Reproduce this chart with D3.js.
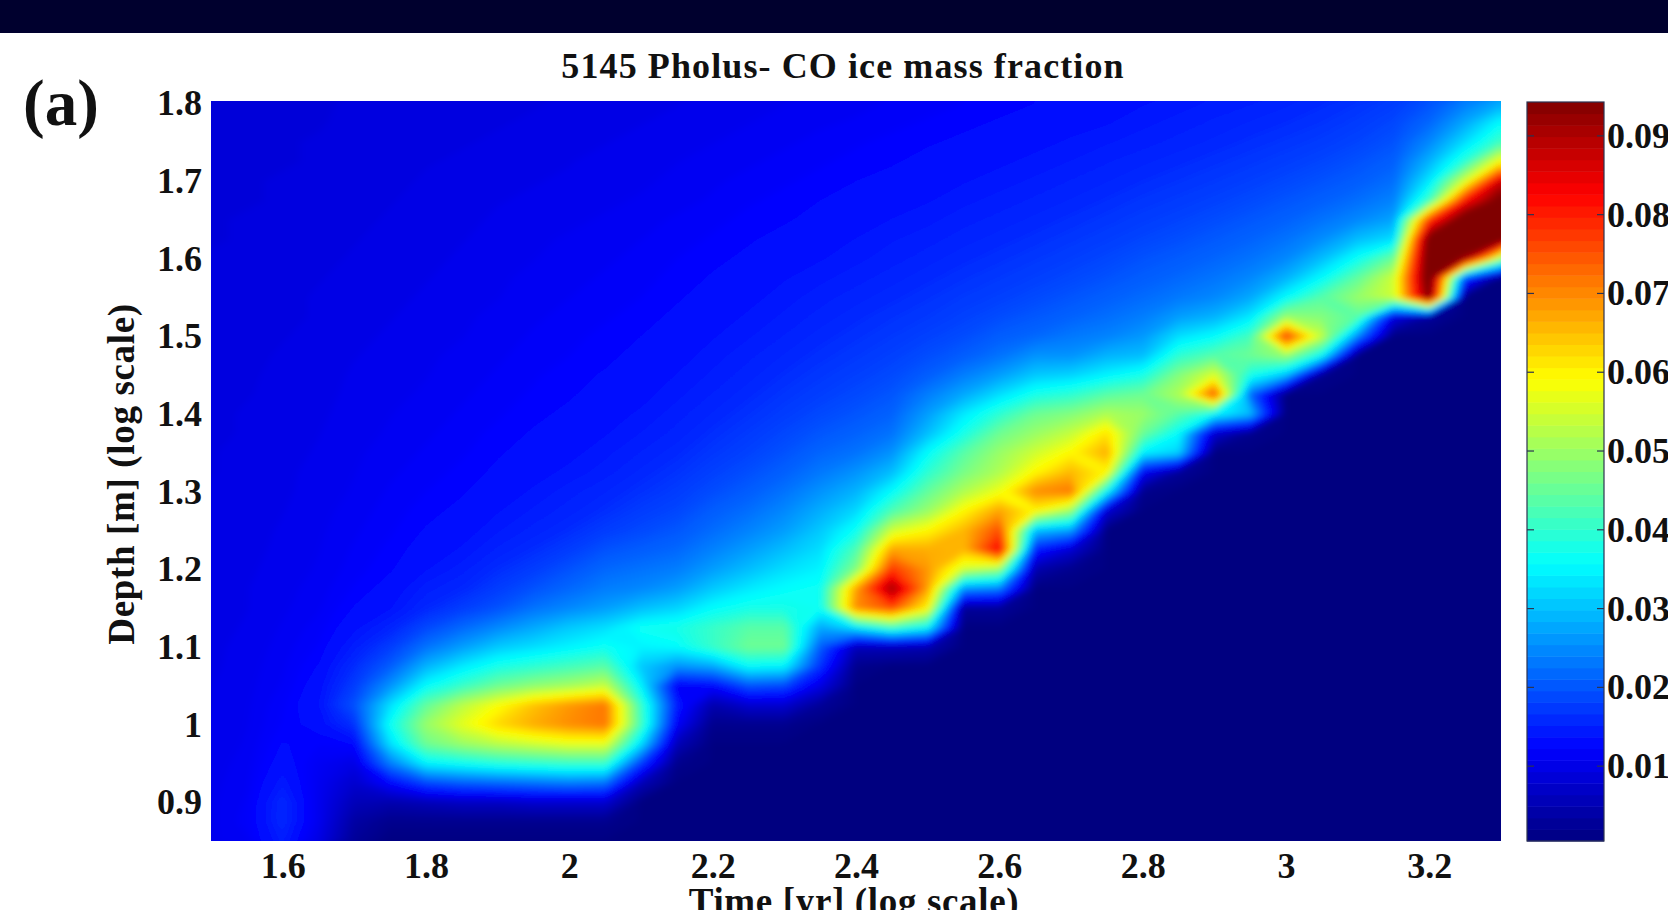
<!DOCTYPE html>
<html>
<head>
<meta charset="utf-8">
<script src="https://d3js.org/d3.v7.min.js"></script>
<style>
html, body { margin: 0; padding: 0; background: #fff; overflow: hidden; }
text { font-family: "Liberation Serif", serif; font-weight: bold; fill: #111; }
</style>
</head>
<body>
<svg id="chart" width="1668" height="910"></svg>
<script>
// ==================================
// DATA
// ==================================
const titleText = "5145 Pholus- CO ice mass fraction";
const xLabelText = "Time [yr] (log scale)";
const yLabelText = "Depth [m] (log scale)";
const xTicks = [1.6, 1.8, 2, 2.2, 2.4, 2.6, 2.8, 3, 3.2];
const yTicks = [0.9, 1, 1.1, 1.2, 1.3, 1.4, 1.5, 1.6, 1.7, 1.8];
const barTicks = [0.01, 0.02, 0.03, 0.04, 0.05, 0.06, 0.07, 0.08, 0.09];
const xDomain = [1.5, 3.3];
const yDomain = [0.85, 1.803];
const barDomain = [0.0005, 0.0943];

// grid of the field: log time (columns) and log depth (rows, top to bottom)
const times = [1.5, 1.55, 1.6, 1.65, 1.7, 1.75, 1.8, 1.85, 1.9, 1.95, 2, 2.05, 2.1, 2.15, 2.2, 2.25, 2.3, 2.35, 2.4,
    2.45, 2.5, 2.55, 2.6, 2.65, 2.7, 2.75, 2.8, 2.85, 2.9, 2.95, 3, 3.05, 3.1, 3.15, 3.2, 3.25, 3.3];
const depths = [1.8, 1.775, 1.75, 1.725, 1.7, 1.675, 1.65, 1.625, 1.6, 1.575, 1.55, 1.525, 1.5, 1.475, 1.45, 1.425,
    1.4, 1.375, 1.35, 1.325, 1.3, 1.275, 1.25, 1.225, 1.2, 1.175, 1.15, 1.125, 1.1, 1.075, 1.05, 1.025,
    1, 0.975, 0.95, 0.925, 0.9, 0.875, 0.85];

// CO mass fraction x 1000, one list per time column
const fractionByTime = [
    [9,9,9.1,9.1, 9.2,9.2,9.3,9.3, 9.4,9.4,9.5,9.5, 9.6,9.6,9.7,9.7, 9.8,9.8,9.9,9.9, 10,10,10.1,10.1, 10.2,10.2,10.3,10.3, 10.4,10.4,10.5,10.5, 10.6,10.7,10.8,10.9, 11,11,11],
    [9.1,9.1,9.2,9.2, 9.3,9.3,9.4,9.4, 9.5,9.5,9.6,9.7, 9.8,9.8,9.9,9.9, 10,10,10.1,10.1, 10.2,10.2,10.3,10.3, 10.4,10.5,10.5,10.6, 10.7,10.8,10.9,11, 11.1,11.2,11.4,11.6, 11.8,12,11.6],
    [9.2,9.2,9.3,9.3, 9.4,9.4,9.5,9.5, 9.6,9.7,9.8,9.8, 9.9,10,10,10.1, 10.2,10.2,10.3,10.4, 10.4,10.5,10.6,10.7, 10.8,10.9,11,11.2, 11.4,11.6,11.8,12.2, 12.4,13,13.6,14.6, 16,16,15],
    [9.3,9.3,9.4,9.4, 9.5,9.6,9.6,9.7, 9.8,9.9,10,10, 10.1,10.2,10.3,10.3, 10.4,10.5,10.6,10.7, 10.8,10.9,11,11.1, 11.2,11.4,11.6,12, 12.4,13,13.6,14, 13.4,12.4,11.6,11.2, 11,11,10],
    [9.4,9.5,9.5,9.6, 9.7,9.7,9.8,9.9, 10,10.1,10.2,10.3, 10.4,10.5,10.6,10.7, 10.8,10.9,11,11.1, 11.2,11.4,11.6,11.8, 12,12.4,13,13.8, 15,16.5,18,20, 17,13,10,8, 6,4,3],
    [9.5,9.6,9.7,9.7, 9.8,9.9,10,10.1, 10.2,10.3,10.4,10.5, 10.6,10.7,10.8,11, 11.1,11.2,11.4,11.6, 11.8,12,12.2,12.5, 12.8,13.4,14,15.6, 18,21,26,33, 37,33,24,13, 5,2,1],
    [9.6,9.7,9.8,9.9, 10,10.1,10.2,10.3, 10.4,10.5,10.6,10.7, 10.8,11,11.1,11.2, 11.4,11.6,11.8,12, 12.3,12.6,13,13.4, 14,15,16,19, 23,29,36,45, 50,46,35,19, 6,2,1],
    [9.7,9.8,9.9,10, 10.2,10.3,10.4,10.5, 10.6,10.7,10.9,11, 11.1,11.3,11.4,11.6, 11.8,12,12.2,12.5, 12.8,13.2,13.6,14.2, 15,16,18,22, 27,34,41,53, 57,50,37,21, 7,2,1],
    [9.8,9.9,10,10.2, 10.3,10.5,10.6,10.7, 10.9,11,11.1,11.3, 11.4,11.6,11.8,12, 12.2,12.5,12.8,13.1, 13.5,14,14.6,15.4, 16.5,18,20,25, 31,38,46,59, 63,53,39,22, 7,2,1],
    [9.9,10,10.2,10.3, 10.5,10.6,10.8,11, 11.1,11.3,11.4,11.6, 11.8,12,12.2,12.4, 12.7,13,13.3,13.7, 14.2,14.8,15.5,16.5, 18,20,23,28, 33,40,49,65, 67,55,40,23, 8,2,1],
    [10,10.2,10.3,10.5, 10.6,10.8,11,11.2, 11.4,11.5,11.7,11.9, 12.1,12.3,12.6,12.8, 13.1,13.5,13.8,14.3, 15,15.6,16.5,18, 20,22,25,31, 35,42,51,69, 70,57,41,24, 8,2,1],
    [10.2,10.3,10.5,10.7, 10.8,11,11.2,11.4, 11.6,11.8,12,12.2, 12.5,12.7,13,13.3, 13.7,14,14.5,15, 15.8,16.6,18,20, 22,24,27,33, 37,44,54,72, 72,57,41,23, 8,2,1],
    [10.3,10.5,10.7,10.9, 11,11.2,11.5,11.7, 11.9,12.1,12.3,12.6, 12.9,13.2,13.5,13.8, 14.2,14.7,15.3,16, 16.8,18,19.2,21, 23,25,30,37, 35,31,35,41, 42,33,18,6, 1,1,1],
    [10.5,10.7,10.9,11.1, 11.3,11.5,11.8,12, 12.3,12.5,12.8,13.1, 13.4,13.7,14.1,14.5, 15,15.5,16.2,17, 18,19,20.4,22, 24,27,32,38, 36,26,12,15, 12,6,2,1, 1,1,1],
    [10.7,10.9,11.1,11.4, 11.6,11.8,12.1,12.4, 12.7,13,13.3,13.6, 14,14.4,14.8,15.3, 15.9,16.6,17.4,18.4, 19.5,21,22.4,24.4, 27,31,36,41, 41,28,13,5, 2,1,1,1, 1,1,1],
    [10.9,11.1,11.4,11.6, 11.9,12.2,12.5,12.8, 13.1,13.5,13.8,14.2, 14.6,15.1,15.6,16.2, 16.9,17.7,18.6,19.7, 21,22.6,24.5,27, 30,34,38,44, 46,36,20,8, 2,1,1,1, 1,1,1],
    [11.1,11.4,11.6,11.9, 12.2,12.5,12.8,13.2, 13.6,14,14.4,14.8, 15.3,15.9,16.5,17.2, 18,19,20,21.3, 23,25,27,30, 33,36,38,44, 46,35,19,8, 2,1,1,1, 1,1,1],
    [11.3,11.6,11.9,12.2, 12.5,12.9,13.2,13.6, 14,14.5,15,15.5, 16.1,16.7,17.4,18.2, 19.2,20.3,21.8,23.5, 26,28.5,31,33, 35,37,37,28, 21,17,10,3, 1,1,1,1, 1,1,1],
    [11.5,11.8,12.2,12.5, 12.9,13.2,13.6,14.1, 14.5,15,15.6,16.2, 16.8,17.5,18.3,19.2, 20.2,21.5,23,26, 29,32.5,37,43, 48,68,70,34, 6,2,1,1, 1,1,1,1, 1,1,1],
    [11.8,12.1,12.5,12.8, 13.2,13.6,14.1,14.6, 15,15.6,16.2,16.9, 17.6,18.4,19.3,20.3, 21.5,23,26,30, 36,43,55,68, 78,92,76,42, 6,1,1,1, 1,1,1,1, 1,1,1],
    [12,12.4,12.8,13.2, 13.6,14,14.5,15, 15.6,16.2,16.9,17.6, 18.5,19.6,21,24, 27,30,36,40, 45,50,60,67, 69,68,60,36, 5,1,1,1, 1,1,1,1, 1,1,1],
    [12.3,12.7,13.1,13.5, 14,14.5,15,15.6, 16.2,16.9,17.7,18.5, 19.5,21,24,28, 34,38,44,47, 52,60,66,66, 55,26,3,1, 1,1,1,1, 1,1,1,1, 1,1,1],
    [12.6,13,13.4,13.9, 14.4,14.9,15.5,16.1, 16.8,17.6,18.4,19.5, 21,23,27,33, 40,46,50,52, 58,68,76,84, 50,24,3,1, 1,1,1,1, 1,1,1,1, 1,1,1],
    [12.9,13.3,13.8,14.3, 14.8,15.4,16,16.7, 17.5,18.3,19.3,20.5, 22,26,31,38, 46,50,55,60, 70,60,30,15, 5,1,1,1, 1,1,1,1, 1,1,1,1, 1,1,1],
    [13.2,13.7,14.2,14.7, 15.3,15.9,16.6,17.4, 18.2,19.1,20.2,21.5, 23.5,26,32,40, 48,54,60,66, 72,50,27,8, 2,1,1,1, 1,1,1,1, 1,1,1,1, 1,1,1],
    [13.6,14,14.6,15.2, 15.8,16.5,17.3,18.1, 19,20,21.2,22.6, 24.5,29,35,44, 52,62,67,60, 36,8,1,1, 1,1,1,1, 1,1,1,1, 1,1,1,1, 1,1,1],
    [14,14.5,15,15.7, 16.4,17.2,18,18.9, 20,21,22.3,24, 26.5,30,38,46, 50,46,35,12, 2,1,1,1, 1,1,1,1, 1,1,1,1, 1,1,1,1, 1,1,1],
    [14.4,14.9,15.5,16.2, 17,17.8,18.7,19.7, 20.8,22,23.6,27, 33,40,48,52, 44,36,32,3, 1,1,1,1, 1,1,1,1, 1,1,1,1, 1,1,1,1, 1,1,1],
    [14.8,15.4,16,16.8, 17.6,18.5,19.5,20.6, 21.8,23.2,25,29, 36,44,56,76, 36,8,1,1, 1,1,1,1, 1,1,1,1, 1,1,1,1, 1,1,1,1, 1,1,1],
    [15.2,15.9,16.6,17.4, 18.3,19.3,20.4,21.6, 23,25,28,34, 42,46,38,22, 30,2,1,1, 1,1,1,1, 1,1,1,1, 1,1,1,1, 1,1,1,1, 1,1,1],
    [15.7,16.4,17.2,18.1, 19.1,20.2,21.4,23, 25,29,36,50, 78,50,30,1, 1,1,1,1, 1,1,1,1, 1,1,1,1, 1,1,1,1, 1,1,1,1, 1,1,1],
    [16.3,17,17.9,18.9, 20,21.2,23,25.5, 30,36,44,48, 54,36,2,1, 1,1,1,1, 1,1,1,1, 1,1,1,1, 1,1,1,1, 1,1,1,1, 1,1,1],
    [17,17.9,18.8,19.9, 21,22.6,25,30, 37,45,50,44, 25,1,1,1, 1,1,1,1, 1,1,1,1, 1,1,1,1, 1,1,1,1, 1,1,1,1, 1,1,1],
    [18,19,20,21.2, 22.6,24.5,27.5,33, 46,55,55,10, 1,1,1,1, 1,1,1,1, 1,1,1,1, 1,1,1,1, 1,1,1,1, 1,1,1,1, 1,1,1],
    [20,22,25,29, 34,42,78,98, 100,100,96,3, 1,1,1,1, 1,1,1,1, 1,1,1,1, 1,1,1,1, 1,1,1,1, 1,1,1,1, 1,1,1],
    [24,28,33,40, 56,82,100,100, 92,18,1,1, 1,1,1,1, 1,1,1,1, 1,1,1,1, 1,1,1,1, 1,1,1,1, 1,1,1,1, 1,1,1],
    [28,36,42,60, 88,97,100,98, 50,1,1,1, 1,1,1,1, 1,1,1,1, 1,1,1,1, 1,1,1,1, 1,1,1,1, 1,1,1,1, 1,1,1]
];

// ==================================
// LAYOUT
// ==================================
const PLOT = { left: 211, right: 1501, top: 101, bottom: 841 };
const BAR = { left: 1527, right: 1604, top: 102, bottom: 841 };

const svg = d3.select("#chart");

const x = d3.scaleLinear().domain(xDomain).range([PLOT.left, PLOT.right]);
const y = d3.scaleLinear().domain(yDomain).range([PLOT.bottom, PLOT.top]);
const barY = d3.scaleLinear().domain(barDomain).range([BAR.bottom, BAR.top]);

// matlab jet
const jetT = d3.scaleLinear().domain(barDomain).range([0, 1]);
const jet = d3.scaleLinear()
    .domain([0, 0.125, 0.375, 0.625, 0.875, 1])
    .range(["#000080", "#0000ff", "#00ffff", "#ffff00", "#ff0000", "#800000"])
    .clamp(true);

// top bar of the slide
svg.append("rect").attr("width", 1668).attr("height", 33).attr("fill", "#00002e");

// ==================================
// FIELD
// ==================================
const defs = svg.append("defs");
defs.append("clipPath").attr("id", "plot-clip")
    .append("rect")
    .attr("x", PLOT.left).attr("y", PLOT.top)
    .attr("width", PLOT.right - PLOT.left).attr("height", PLOT.bottom - PLOT.top);
defs.append("filter").attr("id", "soften")
    .attr("filterUnits", "userSpaceOnUse")
    .attr("x", 0).attr("y", 0).attr("width", 1668).attr("height", 910)
    .append("feGaussianBlur").attr("stdDeviation", 3);

const n = times.length, m = depths.length;
const flat = [];
depths.forEach((d, j) => times.forEach((t, i) => flat.push(fractionByTime[i][j] / 1000)));

const levels = d3.range(0, 160).map(i => barDomain[0] + (barDomain[1] - barDomain[0]) * i / 159);
const contours = d3.contours().size([n, m]).thresholds(levels)(flat);

// grid node i sits at i + 0.5 in contour coordinates
const gridX = d3.scaleLinear().domain([0.5, n - 0.5]).range([x(times[0]), x(times[n - 1])]);
const gridY = d3.scaleLinear().domain([0.5, m - 0.5]).range([y(depths[0]), y(depths[m - 1])]);
const path = d3.geoPath(d3.geoTransform({
    point: function(px, py) { this.stream.point(gridX(px), gridY(py)); }
}));

const field = svg.append("g").attr("clip-path", "url(#plot-clip)")
    .append("g").attr("filter", "url(#soften)");
field.append("rect")
    .attr("x", PLOT.left - 30).attr("y", PLOT.top - 30)
    .attr("width", PLOT.right - PLOT.left + 60).attr("height", PLOT.bottom - PLOT.top + 60)
    .attr("fill", "#000080");
field.selectAll("path")
    .data(contours)
    .enter()
    .append("path")
    .attr("d", path)
    .attr("fill", d => jet(jetT(d.value)));

// ==================================
// COLOUR BAR (64 bands)
// ==================================
const bands = d3.range(0, 64).map(i => barDomain[0] + (barDomain[1] - barDomain[0]) * i / 64);
const bandH = (barDomain[1] - barDomain[0]) / 64;
svg.append("g").selectAll("rect")
    .data(bands)
    .enter()
    .append("rect")
    .attr("x", BAR.left)
    .attr("width", BAR.right - BAR.left)
    .attr("y", d => barY(d + bandH))
    .attr("height", d => barY(d) - barY(d + bandH) + 0.5)
    .attr("fill", d => jet(jetT(d + bandH / 2)));

svg.append("rect")
    .attr("x", BAR.left).attr("y", BAR.top)
    .attr("width", BAR.right - BAR.left).attr("height", BAR.bottom - BAR.top)
    .attr("fill", "none").attr("stroke", "#2c3350").attr("stroke-width", 1.2);

// ticks on both sides of the bar
[BAR.left, BAR.right].forEach(function(px, i) {
    svg.append("g").selectAll("line")
        .data(barTicks)
        .enter()
        .append("line")
        .attr("x1", px).attr("x2", i === 0 ? px + 7 : px - 7)
        .attr("y1", d => barY(d)).attr("y2", d => barY(d))
        .attr("stroke", "#2c3350").attr("stroke-width", 1.2);
});

// ==================================
// AXES AND TEXT
// ==================================
const TICK_FONT = 36;

const xAxis = svg.append("g")
    .attr("transform", `translate(0,${PLOT.bottom})`)
    .call(d3.axisBottom(x).tickValues(xTicks).tickFormat(d => d).tickSize(0).tickPadding(11));
const yAxis = svg.append("g")
    .attr("transform", `translate(${PLOT.left},0)`)
    .call(d3.axisLeft(y).tickValues(yTicks).tickFormat(d => d).tickSize(0).tickPadding(9));
const barAxis = svg.append("g")
    .attr("transform", `translate(${BAR.right},0)`)
    .call(d3.axisRight(barY).tickValues(barTicks).tickFormat(d => d).tickSize(0).tickPadding(3));

[xAxis, yAxis, barAxis].forEach(function(a) {
    a.attr("font-family", null).attr("font-size", null);
    a.select(".domain").remove();
    a.selectAll("text").style("font-size", TICK_FONT + "px");
});

svg.append("text")
    .attr("x", 843).attr("y", 78)
    .attr("text-anchor", "middle")
    .style("font-size", "36px")
    .style("letter-spacing", "1.1px")
    .text(titleText);

svg.append("text")
    .attr("x", 23).attr("y", 125)
    .style("font-size", "65px")
    .text("(a)");

svg.append("text")
    .attr("x", 854).attr("y", 914)
    .attr("text-anchor", "middle")
    .style("font-size", "37px")
    .style("letter-spacing", "0.65px")
    .text(xLabelText);

svg.append("text")
    .attr("transform", "translate(134,474) rotate(-90)")
    .attr("text-anchor", "middle")
    .style("font-size", "37px")
    .style("letter-spacing", "0.65px")
    .text(yLabelText);
</script>
</body>
</html>
